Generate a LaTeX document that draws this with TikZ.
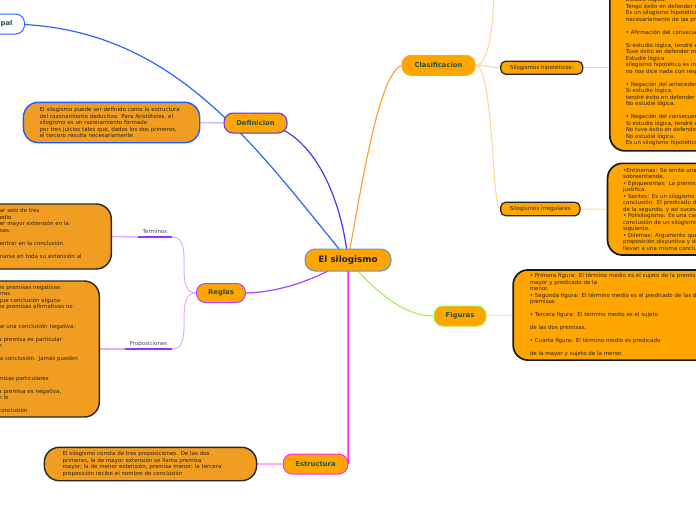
\documentclass[tikz,border=0pt]{standalone}
\usepackage{fontspec}
\setmainfont{DejaVu Sans}
\usepackage{xcolor}
\definecolor{maporange}{HTML}{FFA500}
\definecolor{leftorange}{HTML}{F09D22}
\definecolor{silblue}{HTML}{5C9BD1}
\definecolor{silnavy}{HTML}{1B1F45}
\definecolor{topicgreen}{HTML}{1F5444}
\definecolor{bodytext}{HTML}{2B2412}
\definecolor{taggrey}{HTML}{4A4A4A}
\definecolor{ipalblue}{HTML}{2F62FF}
\definecolor{defviolet}{HTML}{5A2EF2}
\definecolor{defblue}{HTML}{1F5CFF}
\definecolor{deflav}{HTML}{C9BEFF}
\definecolor{reglpurple}{HTML}{B23CFF}
\definecolor{reglav}{HTML}{DDAEFF}
\definecolor{regldark}{HTML}{9B30F0}
\definecolor{clasorange}{HTML}{FFA52E}
\definecolor{claslight}{HTML}{FFD39B}
\definecolor{figgreen}{HTML}{9CF03A}
\definecolor{figlight}{HTML}{CCFF8C}
\definecolor{estpink}{HTML}{FF2BF0}
\definecolor{estlight}{HTML}{FFAAFF}
\pgfdeclarelayer{bg}
\pgfsetlayers{bg,main}

\begin{document}
\begin{tikzpicture}[x=1pt, y=-1pt,
    topic/.style={draw=#1, line width=1pt, fill=maporange, rounded corners=9pt, inner sep=0pt, minimum height=20pt, text=topicgreen, font=\fontsize{6.8}{8}\selectfont\bfseries},
    subtopic/.style={draw=black!85, line width=1.2pt, fill=maporange, rounded corners=5pt, inner sep=0pt, minimum height=13pt, text=bodytext, font=\fontsize{5.5}{6.5}\selectfont},
    note/.style={draw=#1, line width=1.4pt, rounded corners=15pt, text=bodytext, align=left, font=\fontsize{5.5}{6.5}\selectfont},
    tag/.style={inner xsep=0pt, inner ysep=3pt, text depth=0pt, text=taggrey, font=\fontsize{5.5}{6.5}\selectfont}]
                \useasboundingbox (0,0) rectangle (696,520);

                \node[draw=silblue, line width=1pt, fill=maporange, rounded corners=10pt, minimum width=86pt, minimum height=22pt, inner sep=0pt, text=silnavy, font=\fontsize{8.8}{10}\selectfont\bfseries] (silog) at (348,260) {El silogismo};

                \node[topic=ipalblue, fill=white, anchor=east, inner xsep=12pt] (ipal) at (25,24) {ipal};
                \node[topic=defviolet, minimum width=63pt] (defin) at (255.5,123) {Definicion};
                \node[topic=reglpurple, minimum width=49pt, minimum height=19pt] (reglas) at (221,293) {Reglas};
                \node[topic=clasorange, minimum width=73pt] (clasif) at (438.5,65.3) {Clasificacion};
                \node[topic=figgreen, minimum width=52pt] (figuras) at (460,316) {Figuras};
                \node[topic=estpink, minimum width=64.5pt] (estr) at (315.5,464) {Estructura};

                \node[subtopic, minimum width=82pt] (hipo) at (541.7,67.7) {Silogismos hipotéticos:};
                \node[subtopic, minimum width=79.3pt, minimum height=13.5pt] (irreg) at (540.3,209) {Silogismos irregulares};

                % text boxes
                \node[note=defblue, fill=leftorange, text width=143.7pt, inner xsep=16.3pt, minimum height=40.4pt, anchor=west] (defBox) at (22.7,122.5) {El silogismo puede ser definido como la estructura\\ del razonamiento deductivo. Para Aristóteles, el\\ silogismo es un razonamiento formado\\ por tres juicios tales que, dados los dos primeros,\\ el tercero resulta necesariamente};

                \node[note=black!85, fill=leftorange, text width=90pt, inner xsep=21.5pt, minimum height=65pt, anchor=east] (termBox) at (112,236.5) {ar solo de tres\\ edio.\\ er mayor extensión en la\\ sas.\\[6.5pt] entrar en la conclusión.\\[6.5pt] narse en toda su extensión al\\ \mbox{}};

                \node[note=black!85, fill=leftorange, text width=83pt, inner xsep=18pt, minimum height=136pt, anchor=east] (propBox) at (100,349) {es premisas negativas\\ eras\\ gue conclusión alguna\\ es premisas afirmativas no\\[13pt] se una conclusión negativa.\\[6.5pt] a premisa es particular\\ n\\[6.5pt] la conclusión. Jamás pueden\\[13pt] misas particulares\\[6.5pt] a premisa es negativa,\\ n lo\\[6.5pt] conclusión};

                \node[note=black!85, fill=leftorange, text width=175.7pt, inner xsep=18.3pt, minimum height=33.4pt, anchor=east] (estBox) at (257.3,464) {El silogismo consta de tres proposiciones. De las dos\\ primeras, la de mayor extensión se llama premisa\\ mayor; la de menor extensión, premisa menor; la tercera\\ proposición recibe el nombre de conclusión};

                \node[note=black!90, line width=1.7pt, fill=maporange, text width=200pt, inner xsep=16pt, inner ysep=4.8pt, anchor=south west] (hipBox) at (609,151.7) {\rule{0pt}{40pt}Estudié lógica.\\ Tengo éxito en defender m\\ Es un silogismo hipotético\\ necesariamente de las pre\\[6.5pt] • Afirmación del consecuen\\[6.5pt] Si estudio lógica, tendré é\\ Tuve éxito en defender mi\\ Estudié lógica\\ silogismo hipotético es ina\\ no nos dice nada con resp\\[6.5pt] • Negación del anteceden\\ Si estudio lógica,\\ tendré éxito en defender\\ No estudié lógica.\\[6.5pt] • Negación del consecuen\\ Si estudio lógica, tendré é\\ No tuve éxito en defender\\ No estudié lógica.\\ Es un silogismo hipotético};

                \node[note=black!90, line width=1.7pt, fill=maporange, text width=200pt, inner xsep=15.6pt, minimum height=91.7pt, anchor=west] (irregBox) at (606.7,209.2) {•Entinemas: Se omite una\\ sobreentiende.\\ • Epiqueremas: La premisa\\ justifica.\\ • Sorites: Es un silogismo\\ conclusión. El predicado de\\ de la segunda, y así sucesi\\ • Polisilogismo: Es una cad\\ conclusión de un silogismo\\ siguiente.\\ • Dilemas: Argumento que\\ proposición disyuntiva y de\\ llevan a una misma conclu};

                \node[note=black!90, line width=1.7pt, fill=maporange, text width=200pt, inner xsep=16.7pt, minimum height=90pt, anchor=west] (figBox) at (512.3,315) {• Primera figura: El término medio es el sujeto de la premisa\\ mayor y predicado de la\\ menor.\\ • Segunda figura: El término medio es el predicado de las dos\\ premisas\\[6.5pt] • Tercera figura: El término medio es el sujeto\\[6.5pt] de las dos premisas.\\[6.5pt] • Cuarta figura: El término medio es predicado\\[6.5pt] de la mayor y sujeto de la menor.};

                \node[tag, minimum width=34pt, anchor=south] (lblTerm) at (155,237) {Terminos};
                \node[tag, minimum width=47pt, anchor=south] (lblProp) at (148.5,349) {Proposiciones};
                \coordinate (upEnd) at (495,-30);

                \begin{pgfonlayer}{bg}
                \draw[ipalblue, line width=1.2pt] (ipal.center) .. controls (170,24) and (250,140) .. (silog.center);
                \draw[defviolet, line width=1.2pt] (defin.center) .. controls (305,123) and (340,185) .. (silog.center);
                \draw[clasorange, line width=1.2pt] (silog.center) .. controls (365,165) and (380,75) .. (clasif.west);
                \draw[reglpurple, line width=1.2pt] (reglas.east) .. controls (280,292) and (315,280) .. (silog.center);
                \draw[figgreen, line width=1pt] (silog.center) .. controls (370,285) and (400,316) .. (figuras.west);
                \draw[estpink, line width=1.5pt] (silog.center) -- (estr.east);

                \draw[deflav, line width=1.5pt] (defin.west) -- (defBox.east);
                \draw[estlight, line width=1.2pt] (estr.west) -- (estBox.east);
                \draw[figlight, line width=1pt] (figuras.east) -- (figBox.west);

                \draw[reglav, line width=1pt] (reglas.west) to[out=180, in=0] (lblTerm.south east);
                \draw[reglav, line width=1pt] (reglas.west) to[out=180, in=0] (lblProp.south east);
                \draw[reglav, line width=1.5pt] (termBox.east) -- (lblTerm.south west);
                \draw[reglav, line width=1.5pt] (propBox.east) -- (lblProp.south west);
                \draw[regldark, line width=1.5pt] (lblTerm.south west) -- (lblTerm.south east);
                \draw[regldark, line width=1.5pt] (lblProp.south west) -- (lblProp.south east);

                \draw[claslight, line width=1pt] (clasif.east) .. controls +(16,0) and +(-1,40) .. (upEnd);
                \draw[claslight, line width=1pt] (clasif.east) .. controls +(15,0) and +(-12,0) .. (hipo.west);
                \draw[claslight, line width=1pt] (clasif.east) .. controls +(18,0) and +(-8,0) .. (irreg.west);
                \draw[claslight, line width=1pt] (hipo.east) -- (hipo.east -| hipBox.west);
                \draw[claslight, line width=1pt] (irreg.east) -- (irregBox.west);
                \end{pgfonlayer}
            \end{tikzpicture}
\end{document}
